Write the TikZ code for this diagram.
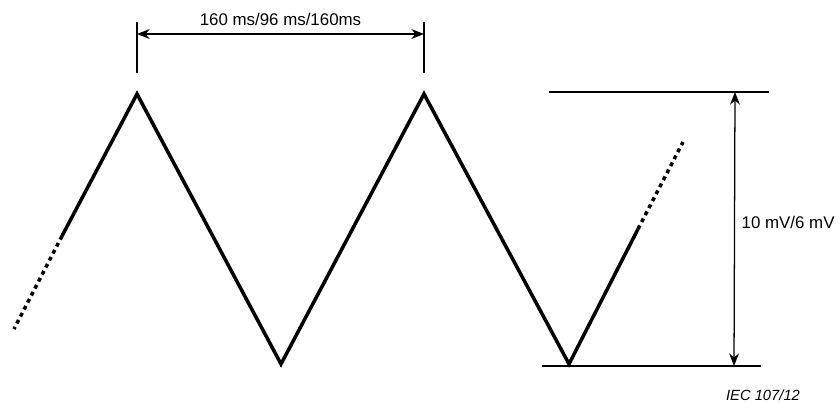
\documentclass[tikz,border=0pt]{standalone}
\usepackage{fontspec}
\setmainfont{Liberation Sans}
\usetikzlibrary{arrows.meta}

\begin{document}
\begin{tikzpicture}[x=0.025cm, y=-0.025cm, >={Stealth[length=9pt, width=7pt]},
  wave/.style={line width=2.5pt, line join=miter},
  wavedash/.style={line width=2.5pt, dash pattern=on 2.8pt off 2.8pt},
  dim/.style={line width=0.9pt},
  lbl/.style={font=\fontsize{12}{14}\selectfont, inner sep=1pt}]
  \useasboundingbox (0,0) rectangle (840,402);
  % Peaks and troughs of the triangle wave
  \coordinate (p1) at (137,94);
  \coordinate (t1) at (281,364);
  \coordinate (p2) at (424,94);
  \coordinate (t2) at (569,364);
  % Ends of the solid part and of the dotted part
  \coordinate (ls) at (62,236);
  \coordinate (ld) at (14,329);
  \coordinate (rs) at (638,229);
  \coordinate (rd) at (683,142);
  \draw[wave] (ls) -- (p1) -- (t1) -- (p2) -- (t2) -- (rs);
  \draw[wavedash] (ls) -- (ld);
  \draw[wavedash] (rs) -- (rd);
  % Period: ticks over the two peaks
  \coordinate (tka) at (137,22);
  \coordinate (tkb) at (424,22);
  \draw[dim] (tka) -- (137,73);
  \draw[dim] (tkb) -- (424,73);
  \draw[dim, <->] (137,34) -- (424,34);
  \node[lbl] (period) at (280.5,19) {160 ms/96 ms/160ms};
  % Amplitude: top and bottom lines
  \coordinate (ha) at (549,92);
  \coordinate (hb) at (769,92);
  \coordinate (la) at (542,366);
  \coordinate (lb) at (761,366);
  \draw[dim] (ha) -- (hb);
  \draw[dim] (la) -- (lb);
  \draw[dim, <->] (735,92) -- (734,366);
  \node[lbl, anchor=west] (ampl) at (740,222) {10 mV/6 mV};
  % Figure number
  \node[font=\fontsize{10.5}{12}\selectfont\itshape, inner sep=1pt] (fig) at (763,395) {IEC 107/12};
\end{tikzpicture}
\end{document}
